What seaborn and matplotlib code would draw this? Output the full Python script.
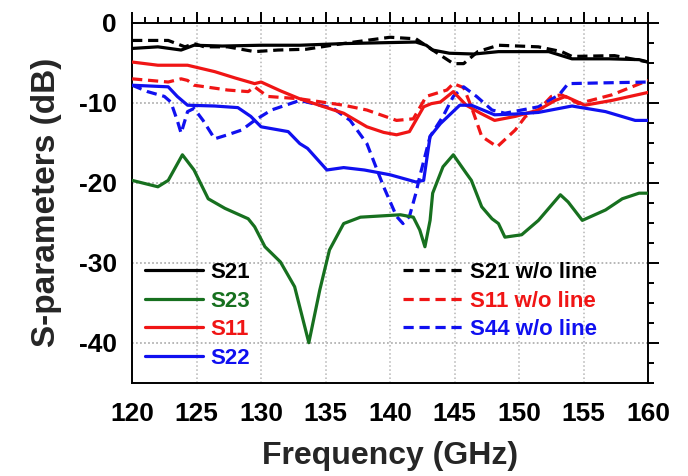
import numpy as np
import matplotlib
matplotlib.use("Agg")
import matplotlib.pyplot as plt
from matplotlib.ticker import MultipleLocator
import seaborn as sns

# ---- data (frequency in GHz, magnitude in dB) ----
f_s21 = [120, 122, 123.8, 124.8, 127, 130, 133, 136.3, 139, 142.0, 142.8, 143.3, 144.6,
         146.5, 148.4, 152.3, 154.1, 157, 159.3, 160]
s21 = [-3.2, -3.0, -3.4, -2.8, -2.9, -2.8, -2.8, -2.6, -2.5, -2.4, -2.8, -3.4, -3.8,
       -3.9, -3.6, -3.6, -4.5, -4.5, -4.6, -4.9]

f_s23 = [120, 122.0, 122.8, 123.9, 124.8, 125.9, 127.2, 129.0, 129.5, 130.3, 131.5, 132.6,
         133.7, 134.55, 135.3, 136.4, 137.7, 140.8, 141.8, 142.3, 142.7, 143.1, 143.3, 144.1,
         144.9, 145.9, 146.3, 147.1, 147.9, 148.4, 148.9, 150.2, 151.5, 153.2, 153.8, 154.9,
         156.7, 158.0, 159.3, 160]
s23 = [-19.7, -20.5, -19.7, -16.5, -18.4, -22.0, -23.2, -24.5, -25.5, -28.0, -29.9, -33.0,
       -40.0, -33.4, -28.4, -25.1, -24.3, -24.0, -24.3, -25.9, -28.0, -24.7, -21.3, -18.0,
       -16.5, -18.8, -19.7, -23.0, -24.5, -25.1, -26.8, -26.5, -24.7, -21.5, -22.4, -24.7,
       -23.4, -22.0, -21.3, -21.3]

f_s11 = [120, 122, 124.3, 126.4, 128, 129.5, 130, 131.5, 133, 134.5, 136.4, 138.2, 139.5,
         140.5, 141.5, 142.6, 143.2, 143.9, 144.9, 145.9, 147, 148.1, 149.7, 151.5, 152.8,
         153.6, 155.1, 157.2, 160]
s11 = [-4.9, -5.3, -5.3, -6.1, -6.9, -7.6, -7.4, -8.5, -9.5, -10.3, -11.3, -13.0, -13.7,
       -14.0, -13.6, -10.5, -10.1, -9.9, -8.6, -10.3, -11.3, -12.2, -11.7, -10.9, -9.7,
       -9.2, -10.3, -9.7, -8.7]

f_s22 = [120, 122.8, 123.5, 124.3, 126.4, 128.2, 129.2, 130, 132.1, 133, 133.6, 135.1, 136.4,
         138, 140.0, 142.0, 142.6, 143.1, 143.9, 145.4, 146.3, 148.1, 149.7, 151.5, 154.1,
         156.7, 159.0, 160]
s22 = [-7.8, -8.0, -9.2, -10.3, -10.4, -10.6, -11.7, -13.0, -13.6, -15.1, -15.7, -18.4, -18.1,
       -18.4, -19.0, -19.9, -19.7, -14.2, -12.6, -10.3, -10.3, -11.5, -11.4, -11.2, -10.4,
       -11.1, -12.2, -12.2]

f_s21_wo = [120, 122.8, 124.1, 124.8, 125.6, 127.4, 129.5, 131.3, 133.5, 136.3, 140.0, 142.0,
            143.3, 144.9, 145.7, 146.8, 148.4, 151.5, 153.3, 154.1, 157.4, 160]
s21_wo = [-2.2, -2.2, -3.0, -2.6, -3.0, -3.0, -3.6, -3.4, -3.3, -2.6, -1.8, -2.0,
          -3.4, -5.1, -5.1, -3.6, -2.8, -3.0, -3.6, -4.2, -4.1, -4.9]

f_s11_wo = [120, 122.8, 123.8, 124.3, 124.8, 127.4, 129.0, 129.5, 130.5, 133, 136.4, 138.2,
            140.5, 141.8, 142.8, 144.4, 144.9, 145.7, 146.3, 147.1, 148.3, 149.7, 150.5,
            151.5, 152.5, 153.3, 154.6, 157.2, 160]
s11_wo = [-7.0, -7.4, -7.0, -7.2, -7.8, -8.4, -8.6, -8.0, -9.2, -9.5, -10.3, -10.9,
          -12.2, -12.0, -9.2, -8.4, -7.6, -8.1, -10.5, -14.2, -15.5, -13.4, -11.7,
          -10.9, -9.2, -9.0, -10.1, -9.0, -7.2]

f_s44_wo = [120, 121.2, 122.5, 123.0, 123.5, 123.8, 124.3, 124.8, 125.5, 126.4, 127.4, 128.5,
            129.5, 130.8, 133, 135.6, 136.9, 138.2, 139.5, 140.5, 141.0, 141.5, 142.0, 142.3,
            143.1, 144.1, 144.9, 145.7, 146.7, 147.9, 148.9, 151.5, 153.1, 153.8, 156.7, 160]
s44_wo = [-7.8, -8.6, -9.2, -9.9, -12.2, -13.8, -11.1, -10.7, -12.2, -14.5, -14.0, -13.4,
          -12.2, -10.9, -9.7, -10.7, -12.2, -15.1, -20.5, -24.2, -25.1, -24.2, -21.3, -19.2,
          -14.2, -11.7, -9.2, -8.0, -9.2, -10.9, -11.3, -10.5, -9.0, -7.6, -7.5, -7.4]

BLACK, GREEN, RED, BLUE = "#000000", "#17701f", "#f01515", "#1010f0"

sns.set_style("white")
plt.rcParams["font.family"] = ["Liberation Sans", "DejaVu Sans"]
plt.rcParams["font.weight"] = "bold"
plt.rcParams["axes.unicode_minus"] = False

fig, ax = plt.subplots(figsize=(6.88, 4.76), dpi=100)
fig.subplots_adjust(left=0.192, right=0.942, top=0.952, bottom=0.196)

lw = 2.3
dash = (0, (3.2, 1.8))
solid = [(f_s21, s21, BLACK, "S21"), (f_s23, s23, GREEN, "S23"),
         (f_s11, s11, RED, "S11"), (f_s22, s22, BLUE, "S22")]
dashed = [(f_s21_wo, s21_wo, BLACK, "S21 w/o line"),
          (f_s11_wo, s11_wo, RED, "S11 w/o line"),
          (f_s44_wo, s44_wo, BLUE, "S44 w/o line")]

# dashed first so the solid traces sit on top
for f, v, c, name in dashed:
    sns.lineplot(x=f, y=v, ax=ax, color=c, lw=lw, linestyle=dash, label=name,
                 estimator=None, sort=False, zorder=3)
for f, v, c, name in solid:
    sns.lineplot(x=f, y=v, ax=ax, color=c, lw=lw, label=name,
                 estimator=None, sort=False, zorder=4)

ax.set_xlim(120, 160)
ax.set_ylim(-45, 0)
ax.xaxis.set_major_locator(MultipleLocator(5))
ax.xaxis.set_minor_locator(MultipleLocator(1))
ax.yaxis.set_major_locator(MultipleLocator(10))
ax.yaxis.set_minor_locator(MultipleLocator(2.5))

# dotted grid every 5 GHz / 5 dB
ax.grid(True, which="major", color="#b5b5b5", linestyle=":", lw=1.1, zorder=0)
for yv in np.arange(-45, 0, 10) + 5:
    ax.axhline(yv, color="#b5b5b5", linestyle=":", lw=1.1, zorder=0)

ax.tick_params(which="both", direction="out", top=True, right=True, width=1.4,
               labelsize=19, colors="black")
ax.tick_params(which="major", length=8, pad=3)
ax.tick_params(which="minor", length=4.5)
ax.tick_params(axis="x", which="major", pad=6)
for lab in ax.get_xticklabels() + ax.get_yticklabels():
    lab.set_fontweight("bold")
for sp in ax.spines.values():
    sp.set_linewidth(1.4)
    sp.set_color("black")

ax.set_xlabel("Frequency (GHz)", fontsize=23, fontweight="bold", labelpad=11)
ax.set_ylabel("S-parameters (dB)", fontsize=24, fontweight="bold", labelpad=12)

handles, labels = ax.get_legend_handles_labels()
lookup = dict(zip(labels, handles))

leg1 = ax.legend([lookup[n] for _, _, _, n in solid], [n for _, _, _, n in solid],
                 loc="upper left", bbox_to_anchor=(0.025, 0.335), frameon=False,
                 prop={"size": 16, "weight": "bold"}, handlelength=2.6,
                 handletextpad=0.35, labelspacing=0.34, borderpad=0, borderaxespad=0)
for t, (_, _, c, _) in zip(leg1.get_texts(), solid):
    t.set_color(c)
ax.add_artist(leg1)

leg2 = ax.legend([lookup[n] for _, _, _, n in dashed], [n for _, _, _, n in dashed],
                 loc="upper left", bbox_to_anchor=(0.525, 0.335), frameon=False,
                 prop={"size": 16, "weight": "bold"}, handlelength=2.7,
                 handletextpad=0.3, labelspacing=0.34, borderpad=0, borderaxespad=0)
for t, (_, _, c, _) in zip(leg2.get_texts(), dashed):
    t.set_color(c)

fig.savefig("out.png", dpi=100)
